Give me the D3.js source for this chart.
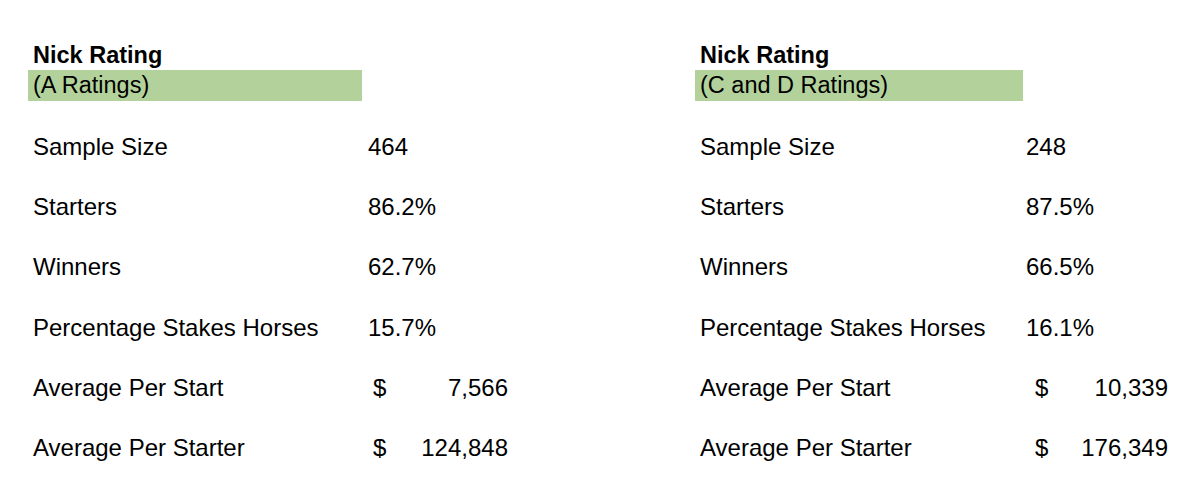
<!DOCTYPE html>
<html><head><meta charset="utf-8">
<script src="https://cdn.jsdelivr.net/npm/d3@7"></script>
<style>body{margin:0;background:#fff}text{font-family:"Liberation Sans",Arial,sans-serif;fill:#000}</style>
</head><body><svg id="c" width="1200" height="491"></svg>
<script>
const titles = ["Nick Rating", "Nick Rating"];
const subtitles = ["(A Ratings)", "(C and D Ratings)"];
const rowLabels = ["Sample Size","Starters","Winners","Percentage Stakes Horses","Average Per Start","Average Per Starter"];
const valuesA = ["464","86.2%","62.7%","15.7%","7,566","124,848"];
const valuesCD = ["248","87.5%","66.5%","16.1%","10,339","176,349"];
const isMoney = [false,false,false,false,true,true];

const svg = d3.select("#c");
const panelX = d3.scaleOrdinal().domain([0,1]).range([33,700]);
const rowY = d3.scalePoint().domain(rowLabels).range([155,456]);
const panels = [{vals:valuesA, valX:368, dollarX:373, rightX:508, boxW:334},
                {vals:valuesCD, valX:1026, dollarX:1035, rightX:1168, boxW:328}];
panels.forEach((p,i)=>{
  const x0 = panelX(i);
  const g = svg.append("g");
  g.append("rect").attr("x",x0-5).attr("y",70).attr("width",p.boxW).attr("height",31).attr("fill","#b3d29b");
  g.append("text").attr("x",x0).attr("y",63).attr("font-size",23.5).attr("font-weight","bold").text(titles[i]);
  g.append("text").attr("x",x0).attr("y",93).attr("font-size",23.5).text(subtitles[i]);
  g.selectAll(".lab").data(rowLabels).join("text").attr("x",x0).attr("y",d=>rowY(d)).attr("font-size",24).text(d=>d);
  rowLabels.forEach((r,j)=>{
    if(isMoney[j]){
      g.append("text").attr("x",p.dollarX).attr("y",rowY(r)).attr("font-size",24).text("$");
      g.append("text").attr("x",p.rightX).attr("y",rowY(r)).attr("font-size",24).attr("text-anchor","end").text(p.vals[j]);
    } else {
      g.append("text").attr("x",p.valX).attr("y",rowY(r)).attr("font-size",24).text(p.vals[j]);
    }
  });
});
</script></body></html>
